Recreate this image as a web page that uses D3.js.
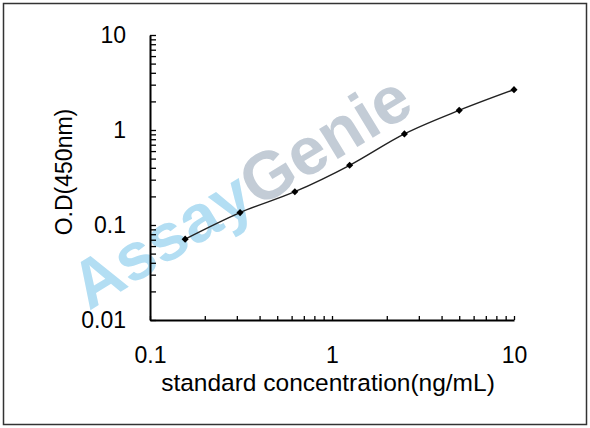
<!DOCTYPE html>
<html>
<head>
<meta charset="utf-8">
<script src="https://cdn.jsdelivr.net/npm/d3@7"></script>
<style>
  body { margin: 0; background: #fff; }
  text { font-family: "Liberation Sans", Arial, sans-serif; }
</style>
</head>
<body>
<div id="chart"></div>
<script>
// standard curve values
var conc = [0.156, 0.3125, 0.625, 1.25, 2.5, 5, 10];
var od = [0.071, 0.135, 0.224, 0.425, 0.91, 1.61, 2.66];
var xLabels = [0.1, 1, 10];
var yLabels = [0.01, 0.1, 1, 10];

var svg = d3.select("#chart").append("svg")
    .attr("width", 590)
    .attr("height", 428)

svg.append("rect")
    .attr("x", 3.5).attr("y", 3.5)
    .attr("width", 583).attr("height", 421)
    .style("fill", "#fff")
    .style("stroke", "#333")
    .style("stroke-width", 1.5)

var x = d3.scaleLog().domain([0.1, 10]).range([150, 514])
var y = d3.scaleLog().domain([0.01, 10]).range([320, 35])

// watermark
var wm = svg.append("text")
    .attr("transform", "translate(89,311) rotate(-31.4)")
    .style("font-size", "67px")
    .style("font-weight", "bold")
wm.append("tspan").text("Assay").style("fill", "#b3def3")
wm.append("tspan").text("Genie").style("fill", "#c3ccd6")

// axes, ticks pointing inside
var yAxis = d3.axisLeft(y)
    .tickValues(y.ticks())
    .tickSizeInner(-6)
    .tickSizeOuter(0)
    .tickPadding(24)
    .tickFormat(function(d){ return yLabels.indexOf(d) >= 0 ? d3.format("~g")(d) : "" })

var xAxis = d3.axisBottom(x)
    .tickValues(x.ticks())
    .tickSizeInner(-4)
    .tickSizeOuter(0)
    .tickPadding(27)
    .tickFormat(function(d){ return xLabels.indexOf(d) >= 0 ? d3.format("~g")(d) : "" })

var gy = svg.append("g").attr("transform", "translate(150,0)").call(yAxis)
var gx = svg.append("g").attr("transform", "translate(0,320)").call(xAxis)

svg.selectAll(".domain").style("stroke", "#000").style("stroke-width", 2)
svg.selectAll(".tick line").style("stroke", "#000").style("stroke-width", 1.3)
svg.selectAll(".tick text")
    .style("font-family", "'Liberation Sans', Arial, sans-serif")
    .style("font-size", "23px")
    .style("fill", "#000")

svg.append("text")
    .attr("x", 328).attr("y", 391)
    .attr("text-anchor", "middle")
    .style("font-size", "24.5px")
    .text("standard concentration(ng/mL)")

svg.append("text")
    .attr("transform", "translate(72,172) rotate(-90)")
    .attr("text-anchor", "middle")
    .style("font-size", "23px")
    .text("O.D(450nm)")

// curve and points
var pts = conc.map(function(c, i){ return [c, od[i]] })

var line = d3.line()
    .x(function(d){ return x(d[0]) })
    .y(function(d){ return y(d[1]) })
    .curve(d3.curveCatmullRom.alpha(0))

svg.append("path")
    .datum(pts)
    .attr("d", line)
    .style("fill", "none")
    .style("stroke", "#222")
    .style("stroke-width", 1.4)

svg.selectAll("dots")
    .data(pts)
    .enter()
    .append("path")
    .attr("d", d3.symbol().type(d3.symbolDiamond2).size(32))
    .attr("transform", function(d){ return "translate(" + x(d[0]) + "," + y(d[1]) + ")" })
    .style("fill", "#000")
</script>
</body>
</html>
